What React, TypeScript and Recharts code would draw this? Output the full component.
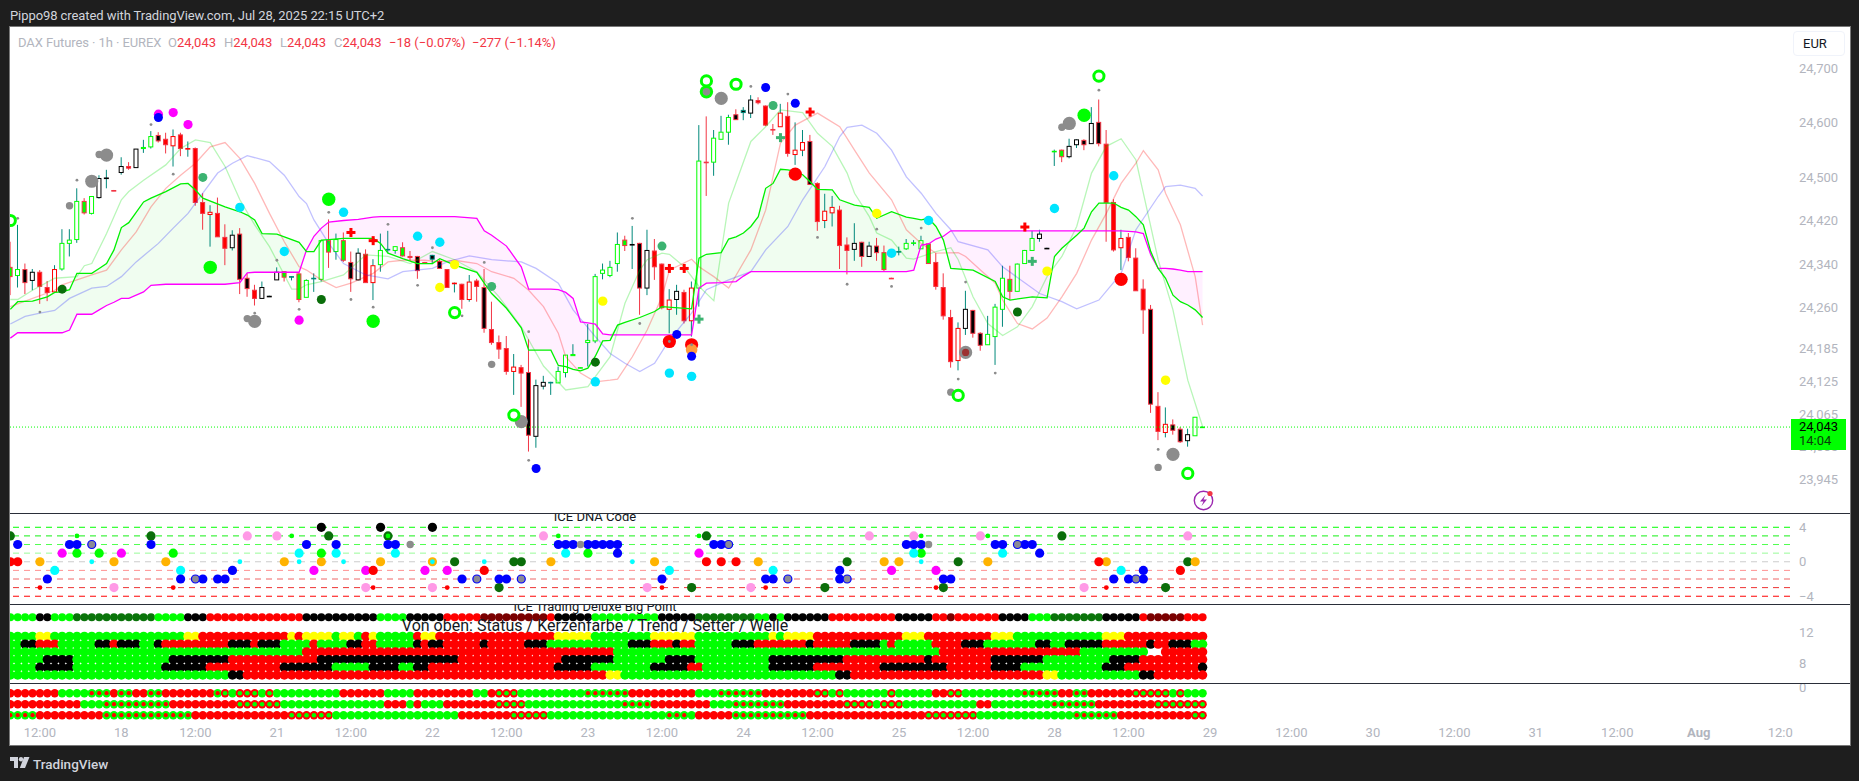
import {
  Area,
  Bar,
  ComposedChart,
  Line,
  ReferenceLine,
  Scatter,
  XAxis,
  YAxis,
} from "recharts";

// one row per hour bar: [open, high, low, close]
const barsJul17 = [
  [24336, 24383, 24285, 24319], [24321, 24414, 24299, 24332], [24332, 24343, 24287, 24308], [24312, 24333, 24294, 24327],
  [24327, 24331, 24269, 24301], [24299, 24311, 24274, 24290], [24291, 24340, 24290, 24332], [24333, 24406, 24330, 24380],
  [24380, 24406, 24356, 24386], [24387, 24481, 24381, 24457], [24457, 24463, 24433, 24436], [24435, 24466, 24433, 24466],
  [24464, 24505, 24462, 24499], [24499, 24515, 24481, 24500], [24477, 24478, 24476, 24476],
];
const barsJul18 = [
  [24510, 24538, 24506, 24521], [24521, 24529, 24515, 24518], [24519, 24553, 24519, 24553], [24554, 24570, 24546, 24556],
  [24557, 24586, 24554, 24576], [24578, 24584, 24565, 24568], [24571, 24583, 24545, 24561], [24559, 24589, 24521, 24576],
  [24579, 24583, 24540, 24554], [24553, 24567, 24539, 24554], [24554, 24556, 24449, 24455], [24455, 24472, 24405, 24435],
  [24433, 24450, 24374, 24437], [24435, 24464, 24392, 24392], [24391, 24415, 24340, 24371], [24372, 24404, 24367, 24395],
  [24397, 24408, 24287, 24314], [24316, 24325, 24282, 24297], [24294, 24304, 24266, 24279], [24279, 24310, 24279, 24299],
  [24283, 24284, 24283, 24283],
];
const barsJul21 = [
  [24313, 24336, 24313, 24327], [24328, 24329, 24310, 24318], [24319, 24320, 24312, 24319], [24324, 24325, 24272, 24277],
  [24281, 24314, 24281, 24312], [24315, 24325, 24291, 24316], [24314, 24385, 24310, 24385], [24385, 24424, 24335, 24364],
  [24365, 24398, 24350, 24387], [24385, 24400, 24346, 24349], [24345, 24365, 24291, 24315], [24313, 24371, 24312, 24362],
  [24360, 24369, 24308, 24308], [24308, 24351, 24276, 24339], [24341, 24398, 24328, 24367], [24369, 24403, 24362, 24369],
  [24367, 24374, 24361, 24374], [24372, 24382, 24356, 24357], [24356, 24366, 24348, 24354], [24356, 24357, 24315, 24330],
  [24345, 24346, 24344, 24345],
];
const barsJul22 = [
  [24351, 24359, 24342, 24358], [24347, 24350, 24334, 24334], [24332, 24333, 24299, 24299], [24307, 24308, 24290, 24307],
  [24305, 24306, 24260, 24277], [24277, 24322, 24273, 24309], [24311, 24315, 24273, 24301], [24299, 24333, 24216, 24224],
  [24222, 24273, 24194, 24198], [24198, 24211, 24168, 24186], [24187, 24210, 24139, 24145], [24145, 24177, 24102, 24153],
  [24152, 24157, 24080, 24142], [24143, 24204, 23998, 24028], [24026, 24130, 24005, 24119], [24118, 24137, 24112, 24125],
  [24125, 24126, 24102, 24125], [24124, 24154, 24124, 24145], [24143, 24175, 24134, 24175], [24174, 24195, 24174, 24176],
  [24152, 24153, 24151, 24152],
];
const barsJul23 = [
  [24198, 24232, 24154, 24202], [24201, 24324, 24197, 24319], [24325, 24343, 24314, 24331], [24321, 24348, 24318, 24336],
  [24343, 24400, 24328, 24378], [24386, 24394, 24366, 24376], [24378, 24412, 24333, 24378], [24380, 24381, 24249, 24298],
  [24298, 24405, 24285, 24367], [24366, 24388, 24313, 24337], [24342, 24343, 24259, 24262], [24259, 24296, 24215, 24276],
  [24277, 24304, 24249, 24292], [24290, 24295, 24233, 24238], [24238, 24310, 24209, 24298], [24298, 24597, 24264, 24531],
  [24529, 24613, 24467, 24528], [24529, 24588, 24504, 24573], [24571, 24614, 24571, 24584], [24584, 24616, 24561, 24611],
  [24616, 24626, 24607, 24607],
];
const barsJul24 = [
  [24620, 24630, 24606, 24624], [24619, 24652, 24610, 24643], [24642, 24648, 24635, 24638], [24632, 24633, 24595, 24597],
  [24589, 24599, 24579, 24588], [24594, 24636, 24594, 24619], [24613, 24639, 24539, 24545], [24543, 24602, 24524, 24551],
  [24551, 24588, 24540, 24565], [24567, 24579, 24488, 24488], [24490, 24492, 24403, 24420], [24422, 24471, 24408, 24439],
  [24436, 24467, 24411, 24446], [24441, 24449, 24333, 24376], [24377, 24391, 24323, 24367], [24369, 24417, 24348, 24380],
  [24382, 24383, 24337, 24356], [24356, 24383, 24356, 24375], [24375, 24390, 24348, 24363], [24363, 24376, 24329, 24332],
  [24316, 24317, 24315, 24316],
];
const barsJul25 = [
  [24365, 24374, 24358, 24365], [24370, 24388, 24368, 24380], [24380, 24386, 24376, 24381], [24370, 24394, 24370, 24385],
  [24379, 24380, 24343, 24343], [24345, 24362, 24295, 24301], [24299, 24325, 24240, 24247], [24244, 24258, 24152, 24163],
  [24165, 24235, 24147, 24224], [24224, 24293, 24212, 24259], [24257, 24258, 24207, 24215], [24215, 24217, 24183, 24193],
  [24194, 24247, 24194, 24213], [24209, 24269, 24157, 24263], [24259, 24339, 24227, 24316], [24314, 24339, 24276, 24292],
  [24292, 24343, 24292, 24342], [24343, 24368, 24343, 24367], [24367, 24403, 24367, 24389], [24389, 24405, 24383, 24397],
  [24371, 24372, 24370, 24371],
];
const barsJul28 = [
  [24548, 24552, 24522, 24549], [24551, 24552, 24529, 24539], [24539, 24572, 24536, 24558], [24561, 24571, 24555, 24570],
  [24569, 24571, 24551, 24561], [24563, 24630, 24563, 24600], [24602, 24644, 24558, 24563], [24562, 24588, 24383, 24455],
  [24455, 24461, 24365, 24368], [24372, 24405, 24331, 24389], [24391, 24399, 24347, 24354], [24353, 24371, 24293, 24293],
  [24296, 24314, 24214, 24258], [24259, 24267, 24069, 24085], [24081, 24107, 24019, 24035], [24033, 24079, 24024, 24048],
  [24047, 24057, 24029, 24037], [24039, 24043, 24014, 24016], [24018, 24040, 24007, 24029], [24027, 24061, 24027, 24061],
  [24043, 24044, 24043, 24043],
];
// candle colouring per bar, one letter each (see candleLooks)
const barLooks =
  "gGkKrrRGGGgGKKr" +
  "KrKGGkrRrRrrRrrKkkrKK" +
  "KgTgGTGgGgkKrRGTGgrkr" +
  "nkrRrRrkrrrRrkKKTGGGG" +
  "GGGGGgKkKrrRKrRGrGGGk" +
  "nKrrrRrRRkrRRrrKkKkgr" +
  "TGGGgrrrRKkkGGGgGGGKK" +
  "GgKKkKkrrRrrrkrRkkKGG";

// the two lines that bound the cloud, read at the same bars
const cloudBars = [
  0, 1, 3, 5, 6, 7, 8, 9, 11, 12, 13, 14, 15, 16, 18, 19, 21, 23, 24, 25, 26, 29, 31, 32, 33, 34, 36, 39, 40, 41, 42, 43,
  45, 47, 49, 50, 51, 53, 55, 57, 58, 60, 63, 64, 65, 67, 69, 70, 73, 74, 75, 76, 77, 78, 79, 80, 81, 82, 83, 85, 87, 88,
  92, 93, 94, 96, 97, 98, 99, 100, 101, 102, 103, 104, 105, 106, 107, 108, 109, 111, 112, 114, 116, 117, 119, 121, 122,
  123, 124, 125, 126, 127, 130, 133, 134, 135, 138, 140, 141, 142, 144, 145, 146, 147, 149, 150, 151, 152, 153, 154, 155,
  156, 157, 158, 159, 160, 161,
];
const fastLine = [
  24259, 24273, 24274, 24282, 24290, 24291, 24295, 24325, 24325, 24334, 24343, 24368, 24409, 24418, 24456, 24463, 24475,
  24489, 24490, 24478, 24463, 24447, 24438, 24432, 24423, 24398, 24397, 24382, 24365, 24365, 24386, 24387, 24389, 24389,
  24389, 24380, 24362, 24352, 24343, 24343, 24352, 24340, 24327, 24307, 24288, 24261, 24225, 24184, 24184, 24156, 24154,
  24149, 24146, 24151, 24173, 24201, 24202, 24230, 24235, 24244, 24255, 24264, 24260, 24353, 24360, 24363, 24388, 24392,
  24399, 24411, 24429, 24481, 24490, 24516, 24515, 24512, 24506, 24493, 24479, 24478, 24460, 24450, 24446, 24426, 24438,
  24428, 24426, 24423, 24426, 24411, 24386, 24334, 24331, 24310, 24282, 24276, 24282, 24280, 24356, 24371, 24395, 24408,
  24438, 24454, 24454, 24446, 24441, 24429, 24414, 24365, 24334, 24316, 24285, 24273, 24267, 24258, 24244,
];
const slowLine = [
  24206, 24216, 24216, 24216, 24216, 24216, 24221, 24250, 24250, 24258, 24266, 24272, 24279, 24279, 24291, 24303, 24305,
  24305, 24305, 24305, 24305, 24305, 24308, 24326, 24327, 24327, 24327, 24327, 24368, 24393, 24408, 24419, 24422, 24424,
  24428, 24429, 24429, 24429, 24429, 24429, 24429, 24429, 24426, 24403, 24395, 24375, 24337, 24296, 24296, 24295, 24290,
  24279, 24236, 24234, 24232, 24214, 24212, 24212, 24212, 24212, 24212, 24212, 24212, 24298, 24307, 24308, 24309, 24310,
  24320, 24328, 24328, 24328, 24328, 24328, 24328, 24328, 24328, 24328, 24328, 24328, 24328, 24328, 24328, 24328, 24328,
  24328, 24331, 24377, 24379, 24388, 24393, 24403, 24403, 24403, 24403, 24403, 24403, 24403, 24403, 24403, 24403, 24403,
  24403, 24403, 24403, 24403, 24402, 24401, 24398, 24359, 24334, 24334, 24333, 24331, 24328, 24328, 24328,
];

// thin moving averages, [bar, price] at the bends
const paleGreenAvg = [
  [0, 24277], [1, 24277], [3, 24294], [6, 24316], [9, 24319], [10, 24339], [11, 24343], [13, 24398], [15, 24460], [16, 24475],
  [18, 24496], [21, 24524], [23, 24554], [25, 24570], [27, 24565], [29, 24521], [31, 24460], [33, 24414], [35, 24374],
  [38, 24296], [39, 24296], [40, 24304], [42, 24310], [45, 24322], [48, 24359], [51, 24356], [54, 24343], [57, 24365],
  [60, 24350], [63, 24328], [66, 24282], [69, 24227], [72, 24155], [75, 24111], [78, 24117], [81, 24172], [83, 24270],
  [85, 24331], [86, 24350], [88, 24362], [89, 24360], [91, 24337], [93, 24301], [95, 24275], [97, 24454], [100, 24567],
  [102, 24594], [104, 24625], [107, 24620], [109, 24582], [111, 24558], [113, 24509], [114, 24472], [116, 24429], [117, 24399],
  [119, 24386], [121, 24353], [122, 24351], [125, 24365], [127, 24372], [128, 24350], [130, 24282], [132, 24233], [134, 24211],
  [136, 24227], [138, 24264], [140, 24319], [142, 24356], [144, 24411], [146, 24509], [148, 24558], [150, 24572], [152, 24533],
  [153, 24472], [155, 24350], [157, 24258], [159, 24129], [161, 24044],
];
const paleRedAvg = [
  [0, 24264], [2, 24274], [6, 24294], [7, 24304], [9, 24313], [11, 24322], [13, 24331], [15, 24368], [17, 24401], [19, 24447],
  [21, 24481], [23, 24505], [25, 24527], [27, 24557], [29, 24565], [31, 24536], [33, 24490], [35, 24435], [37, 24383],
  [39, 24337], [40, 24331], [42, 24313], [44, 24299], [46, 24307], [49, 24325], [51, 24346], [53, 24349], [56, 24349],
  [58, 24346], [60, 24349], [63, 24343], [65, 24328], [68, 24316], [70, 24294], [72, 24264], [74, 24215], [75, 24172],
  [77, 24142], [79, 24126], [81, 24129], [82, 24131], [84, 24172], [86, 24221], [88, 24282], [89, 24331], [92, 24351],
  [93, 24337], [95, 24319], [97, 24298], [100, 24368], [102, 24441], [104, 24564], [106, 24597], [109, 24619], [112, 24594],
  [114, 24551], [116, 24509], [119, 24460], [121, 24405], [123, 24380], [125, 24362], [128, 24363], [129, 24356], [131, 24331],
  [133, 24307], [134, 24276], [136, 24233], [138, 24223], [140, 24243], [142, 24282], [144, 24325], [146, 24386], [148, 24435],
  [150, 24490], [152, 24527], [153, 24550], [155, 24515], [156, 24472], [158, 24414], [160, 24319], [161, 24230],
];
const paleBlueAvg = [
  [0, 24232], [2, 24246], [4, 24252], [6, 24257], [8, 24279], [11, 24298], [13, 24301], [15, 24319], [17, 24346], [20, 24380],
  [22, 24408], [24, 24435], [26, 24472], [28, 24509], [30, 24527], [32, 24541], [35, 24530], [37, 24505], [39, 24466],
  [40, 24453], [41, 24423], [43, 24380], [45, 24343], [48, 24322], [51, 24315], [53, 24328], [57, 24334], [59, 24346],
  [62, 24357], [65, 24350], [69, 24346], [71, 24334], [74, 24307], [76, 24258], [79, 24209], [81, 24178], [83, 24160],
  [85, 24145], [87, 24160], [89, 24203], [92, 24252], [94, 24295], [97, 24313], [100, 24328], [102, 24368], [105, 24411],
  [107, 24460], [110, 24521], [112, 24576], [113, 24593], [115, 24597], [117, 24582], [119, 24551], [121, 24502], [123, 24472],
  [125, 24435], [127, 24405], [128, 24383], [132, 24368], [134, 24337], [139, 24288], [142, 24273], [144, 24260], [147, 24276],
  [150, 24325], [152, 24405], [155, 24466], [156, 24484], [158, 24487], [160, 24481], [161, 24467],
];

// signal markers on the price pane, [bar, price]
const grayTiny = [
  [1, 24426], [4, 24254], [9, 24496], [19, 24598], [22, 24507], [33, 24252], [36, 24349], [39, 24259], [43, 24437], [46, 24277],
  [49, 24263], [51, 24415], [55, 24303], [57, 24372], [61, 24247], [64, 24345], [70, 24218], [70, 23982], [84, 24426], [85, 24233],
  [100, 24668], [105, 24654], [109, 24391], [113, 24305], [117, 24406], [119, 24301], [123, 24408], [128, 24131], [129, 24309],
  [133, 24142], [147, 24661], [155, 24002],
];
const grayMid = [[8, 24449], [12, 24543], [32, 24242], [65, 24158], [127, 24107], [142, 24593], [155, 23969]];
const grayBig = [[11, 24494], [13, 24542], [33, 24237], [69, 24053], [96, 24646], [129, 24180], [143, 24600], [157, 23993]];
const magentaDots = [[20, 24617], [22, 24620], [24, 24598], [39, 24239]];
const cyanDots = [
  [31, 24446], [37, 24365], [45, 24437], [55, 24393], [58, 24382], [79, 24126], [89, 24142], [92, 24136], [119, 24362],
  [124, 24422], [141, 24444], [149, 24504],
];
const blueDots = [[20, 24611], [71, 23967], [90, 24213], [92, 24173], [102, 24666], [106, 24637]];
const limeBig = [[27, 24336], [43, 24461], [49, 24237], [94, 24658], [145, 24615]];
const darkGreenDots = [[7, 24296], [42, 24277], [79, 24162], [136, 24254]];
const seaGreenDots = [[26, 24501], [65, 24301], [88, 24375], [103, 24633]];
const yellowDots = [[58, 24299], [60, 24341], [80, 24274], [117, 24435], [140, 24329], [156, 24129]];
const redBig = [[89, 24200], [92, 24194], [106, 24507], [150, 24314]];
const orangeDots = [[92, 24185]];
const brownDots = [[129, 24180]];
const limeRings = [[0, 24422], [60, 24253], [68, 24065], [94, 24678], [98, 24672], [128, 24101], [147, 24687], [159, 23958]];
const redPlus = [[46, 24400], [49, 24385], [89, 24334], [91, 24334], [108, 24621], [137, 24410]];
const seaPlus = [[93, 24241], [104, 24574], [138, 24347]];
const innerGray = [[89, 24200], [92, 24194]];
const innerGrayWide = [[94, 24658]];

// ICE DNA Code pane, [bar, level]
const dnaDarkGreen = [
  [0, 3], [19, 3], [43, 3], [51, 3], [60, 0], [66, -3], [68, 0], [69, 0], [92, -3], [94, 3], [110, -3], [113, 0], [126, -3],
  [128, 0], [142, 3], [156, -3], [159, 0],
];
const dnaBlue = [
  [1, 2], [8, 2], [9, 2], [19, 2], [40, 2], [44, 2], [51, 2], [52, 2], [74, 2], [75, 2], [76, 2], [78, 2], [79, 2], [80, 2],
  [81, 2], [82, 2], [95, 2], [96, 2], [121, 2], [122, 2], [123, 2], [133, 2], [134, 2], [137, 2], [138, 2], [82, 1], [139, 1],
  [30, -1], [112, -1], [153, -1], [5, -2], [23, -2], [26, -2], [28, -2], [29, -2], [61, -2], [66, -2], [67, -2], [88, -2],
  [102, -2], [103, -2], [112, -2], [126, -2], [127, -2], [149, -2], [151, -2], [153, -2],
];
const dnaBlueRing = [[11, 2], [97, 2], [136, 2], [25, -2], [63, -2], [69, -2], [105, -2], [113, -2], [152, -2]];
const dnaGray = [[54, 2], [77, 2], [124, 2]];
const dnaMagenta = [[7, 1], [15, 1], [93, 1], [41, -1], [48, -1], [56, -1], [59, -1], [119, -1], [125, -1]];
const dnaCyan = [[39, 1], [44, 1], [52, 1], [75, 1], [122, 1], [134, 1], [6, -1], [23, -1], [89, -1], [103, -1], [150, -1]];
const dnaLime = [[9, 1], [12, 1], [22, 1], [42, 1], [78, 1], [123, 1]];
const dnaOrange = [
  [4, 0], [14, 0], [21, 0], [37, 0], [42, 0], [50, 0], [57, 0], [73, 0], [87, 0], [101, 0], [118, 0], [120, 0], [132, 0],
  [148, 0], [160, 0],
];
const dnaRed = [[0, 0], [1, 0], [94, 0], [96, 0], [98, 0], [147, 0], [49, -1], [64, -1], [158, -1]];
const dnaBlack = [[42, 4], [50, 4], [57, 4]];
const dnaPink = [
  [32, 3], [36, 3], [72, 3], [116, 3], [122, 3], [131, 3], [159, 3], [14, -3], [48, -3], [57, -3], [86, -3], [100, -3], [145, -3],
];
const dnaSmallGreen = [[9, 3], [38, 3], [51, 3], [74, 3], [93, 3], [123, 3], [132, 3]];
const dnaSmallCyan = [[11, 0], [31, 0], [39, 0], [45, 0], [57, 0], [64, 0], [84, 0], [123, 0]];
const dnaSmallRed = [[4, -3], [22, -3], [49, -3], [59, -3], [88, -3], [102, -3], [125, -3], [148, -3]];
const dnaLevels = [4, 3, 2, 1, 0, -1, -2, -3, -4];

// status matrix, runs of [colour code, number of bars]
const bigPointRuns = [
  ["g", 4], ["k", 2], ["g", 3], ["D", 11], ["g", 4], ["k", 3], ["r", 13], ["k", 10], ["g", 4], ["k", 5], ["r", 5], ["B", 9],
  ["r", 1], ["k", 5], ["g", 9], ["k", 5], ["D", 8], ["g", 2], ["k", 1], ["g", 1], ["k", 6], ["r", 9], ["k", 5], ["r", 2], ["B", 1],
  ["r", 6], ["k", 4], ["g", 3], ["D", 7], ["k", 5], ["r", 1], ["B", 5], ["r", 3],
];
const statusRuns = [
  ["g", 4], ["y", 2], ["g", 18], ["y", 2], ["r", 12], ["y", 1], ["r", 1], ["y", 4], ["g", 1], ["y", 2], ["g", 1], ["r", 1], ["y", 1],
  ["g", 5], ["r", 1], ["y", 2], ["r", 16], ["y", 5], ["g", 8], ["y", 6], ["g", 10], ["y", 1], ["g", 1], ["y", 4], ["r", 12], ["y", 3],
  ["r", 9], ["y", 3], ["g", 12], ["y", 3], ["r", 11],
];
const candleColorRuns = [
  ["g", 2], ["k", 2], ["r", 3], ["g", 5], ["k", 2], ["r", 1], ["k", 3], ["g", 2], ["k", 1], ["r", 9], ["k", 3], ["r", 1], ["k", 3],
  ["g", 4], ["r", 1], ["g", 4], ["k", 2], ["r", 2], ["g", 5], ["k", 1], ["r", 1], ["k", 2], ["r", 5], ["k", 1], ["r", 5], ["k", 3],
  ["g", 11], ["k", 3], ["r", 3], ["k", 1], ["r", 2], ["g", 5], ["k", 3], ["r", 7], ["k", 1], ["r", 5], ["k", 4], ["g", 1], ["r", 1],
  ["g", 5], ["r", 4], ["k", 3], ["g", 7], ["k", 2], ["g", 2], ["k", 5], ["r", 6], ["k", 1], ["r", 2], ["k", 3], ["g", 2],
];
const cloudColorRuns = [["g", 40], ["r", 42], ["g", 44], ["r", 19], ["g", 9], ["w", 2], ["r", 6]];
const trendRuns = [
  ["g", 5], ["k", 4], ["g", 13], ["k", 8], ["r", 12], ["k", 19], ["r", 14], ["k", 7], ["g", 7], ["k", 4], ["g", 10], ["k", 10],
  ["r", 11], ["k", 1], ["r", 8], ["k", 7], ["g", 9], ["k", 4], ["r", 9],
];
const setterRuns = [
  ["g", 4], ["k", 5], ["g", 12], ["k", 6], ["r", 10], ["k", 7], ["g", 5], ["k", 4], ["g", 2], ["k", 2], ["r", 17], ["k", 5], ["g", 8],
  ["k", 5], ["r", 2], ["g", 9], ["k", 6], ["r", 9], ["k", 9], ["r", 6], ["k", 4], ["g", 11], ["k", 3], ["r", 10], ["k", 1],
];
const waveRuns = [
  ["g", 30], ["k", 2], ["r", 49], ["y", 2], ["g", 29], ["k", 2], ["r", 26], ["y", 2], ["g", 11], ["k", 2], ["r", 7],
];
const momentumTopRuns = [
  ["r", 7], ["g", 4], ["d", 3], ["r", 1], ["d", 2], ["r", 2], ["d", 2], ["r", 7], ["d", 1], ["o", 1], ["g", 1], ["o", 3], ["g", 1], ["o", 1],
  ["g", 9], ["r", 6], ["g", 4], ["r", 8], ["g", 2], ["r", 1], ["o", 3], ["g", 9], ["d", 6], ["r", 9], ["g", 3], ["d", 6], ["r", 7], ["o", 2],
  ["g", 1], ["o", 1], ["g", 6], ["o", 1], ["g", 5], ["r", 2], ["o", 2], ["g", 8], ["d", 5], ["r", 2], ["d", 2], ["r", 6], ["o", 5], ["g", 1],
  ["o", 1], ["g", 3],
];
const momentumMidRuns = [
  ["r", 10], ["g", 3], ["d", 9], ["r", 9], ["o", 6], ["g", 14], ["r", 3], ["g", 1], ["r", 1], ["g", 3], ["r", 7], ["o", 4], ["g", 13], ["d", 4],
  ["r", 8], ["g", 3], ["d", 7], ["r", 8], ["o", 4], ["g", 1], ["o", 3], ["g", 10], ["r", 2], ["g", 8], ["d", 6], ["r", 8], ["o", 7],
];
const momentumLowRuns = [
  ["d", 4], ["r", 9], ["d", 12], ["r", 13], ["o", 6], ["g", 17], ["r", 7], ["o", 5], ["g", 16], ["d", 3], ["g", 1], ["r", 5], ["d", 10], ["r", 16],
  ["o", 7], ["g", 13], ["d", 6], ["r", 10], ["o", 2],
];

const priceTicks = [24700, 24600, 24500, 24420, 24340, 24260, 24185, 24125, 24065, 24005, 23945];
const timeTicks = [4, 15, 25, 36, 46, 57, 67, 78, 88, 99, 109, 120, 130, 141, 151, 162, 173, 184, 195, 206, 217, 228, 239];
const timeLabels = [
  "12:00", "18", "12:00", "21", "12:00", "22", "12:00", "23", "12:00", "24", "12:00", "25", "12:00", "28", "12:00", "29",
  "12:00", "30", "12:00", "31", "12:00", "Aug", "12:0",
];
const lastPrice = 24043;

const candleLooks: Record<string, { border: string; fill: string; wick: string }> = {
  G: { border: "#00ff00", fill: "#ffffff", wick: "#00897b" },
  K: { border: "#000000", fill: "#ffffff", wick: "#00897b" },
  R: { border: "#ff0000", fill: "#ffffff", wick: "#00897b" },
  r: { border: "#f23645", fill: "#ff0000", wick: "#f23645" },
  k: { border: "#f23645", fill: "#000000", wick: "#f23645" },
  g: { border: "#f23645", fill: "#00ff00", wick: "#f23645" },
  T: { border: "#00897b", fill: "#00897b", wick: "#00897b" },
  n: { border: "#00897b", fill: "#000000", wick: "#00897b" },
};
const matrixColors: Record<string, string> = {
  g: "#00ff00",
  k: "#000000",
  r: "#ff0000",
  y: "#ffff00",
  D: "#0a740a",
  B: "#7a0000",
};

const GREY = "#b2b5be";
const FONT = "Roboto, sans-serif";
const X_DOMAIN = [-0.04, 240.32];
const WIDTH = 1850;

const candleTable = [
  ...barsJul17, ...barsJul18, ...barsJul21, ...barsJul22, ...barsJul23, ...barsJul24, ...barsJul25, ...barsJul28,
].map(([open, high, low, close], i) => ({ x: i, open, high, low, close, range: [low, high], look: barLooks[i] }));

const cloudTable = cloudBars.map((x, i) => {
  const fast = fastLine[i];
  const slow = slowLine[i];
  return { x, fast, slow, up: [slow, Math.max(fast, slow)], down: [fast, Math.max(fast, slow)] };
});

const toPoints = (pairs: number[][]) => pairs.map(([x, y]) => ({ x, y }));
const expandRuns = (runs: (string | number)[][]) =>
  runs.flatMap(([code, count]) => Array.from({ length: count as number }, () => code as string));

const matrixPoints = (rows: { runs: (string | number)[][]; y: number }[]) =>
  rows.flatMap(({ runs, y }) => expandRuns(runs).map((code, x) => ({ x, y, code })));

const statusCells = matrixPoints([
  { runs: bigPointRuns, y: 14 },
  { runs: statusRuns, y: 11.5 },
  { runs: candleColorRuns, y: 10.5 },
  { runs: cloudColorRuns, y: 9.5 },
  { runs: trendRuns, y: 8.5 },
  { runs: setterRuns, y: 7.5 },
  { runs: waveRuns, y: 6.5 },
]);
const momentumCells = matrixPoints([
  { runs: momentumTopRuns, y: -0.5 },
  { runs: momentumMidRuns, y: -1.5 },
  { runs: momentumLowRuns, y: -2.5 },
]);

function CandleShape(props: any) {
  const { x, y, width, height, payload } = props;
  const look = candleLooks[payload.look];
  const span = payload.high - payload.low;
  const toY = (value: number) => y + ((payload.high - value) / span) * height;
  const top = toY(Math.max(payload.open, payload.close));
  const bottom = toY(Math.min(payload.open, payload.close));
  const mid = x + width / 2;
  return (
    <g>
      <line x1={mid} x2={mid} y1={y} y2={y + height} stroke={look.wick} strokeWidth={1} />
      <rect
        x={x + 0.5}
        y={top}
        width={width - 1}
        height={Math.max(bottom - top, 0.6)}
        fill={look.fill}
        stroke={look.border}
        strokeWidth={1}
      />
    </g>
  );
}

const dotShape = (color: string, r: number) => (props: any) =>
  <circle cx={props.cx} cy={props.cy} r={r} fill={color} />;

const ringShape = (color: string, r: number) => (props: any) =>
  <circle cx={props.cx} cy={props.cy} r={r} fill="none" stroke={color} strokeWidth={3} />;

const blueRingShape = (props: any) => (
  <circle cx={props.cx} cy={props.cy} r={4} fill="#8a8a96" stroke="#0000ff" strokeWidth={1.2} />
);

const plusShape = (color: string) => (props: any) => (
  <g fill={color}>
    <rect x={props.cx - 4.5} y={props.cy - 1.5} width={9} height={3} />
    <rect x={props.cx - 1.5} y={props.cy - 4.5} width={3} height={9} />
  </g>
);

const diamondShape = (color: string) => (props: any) =>
  <circle cx={props.cx} cy={props.cy} r={2.4} fill={color} />;

const matrixShape = (r: number) => (props: any) => {
  const { cx, cy, payload } = props;
  const radius = payload.y === 14 ? 4 : r;
  if (payload.code === "w") return <g />;
  if (payload.code === "d") {
    return (
      <g>
        <circle cx={cx} cy={cy} r={radius} fill="#00ff00" />
        <circle cx={cx} cy={cy} r={2.1} fill="#ff0000" />
      </g>
    );
  }
  if (payload.code === "o") {
    return (
      <g>
        <circle cx={cx} cy={cy} r={radius} fill="#ff0000" />
        <circle cx={cx} cy={cy} r={2.3} fill="#00ff00" />
      </g>
    );
  }
  return <circle cx={cx} cy={cy} r={radius} fill={matrixColors[payload.code]} />;
};

const priceMarks = [
  { data: grayBig, shape: dotShape("#8c8c8c", 6.6) },
  { data: grayMid, shape: dotShape("#8c8c8c", 3.7) },
  { data: limeBig, shape: dotShape("#00ff00", 6.7) },
  { data: redBig, shape: dotShape("#ff0000", 6.6) },
  { data: orangeDots, shape: dotShape("#ff9b3d", 5.8) },
  { data: brownDots, shape: dotShape("#9c3030", 3.6) },
  { data: magentaDots, shape: dotShape("#ff00ff", 4.6) },
  { data: blueDots, shape: dotShape("#0000ff", 4.5) },
  { data: cyanDots, shape: dotShape("#00e5ff", 4.7) },
  { data: yellowDots, shape: dotShape("#ffff00", 4.7) },
  { data: darkGreenDots, shape: dotShape("#0a6e0a", 4.5) },
  { data: seaGreenDots, shape: dotShape("#3cb371", 4.5) },
  { data: innerGrayWide, shape: dotShape("#8c8c8c", 3.8) },
  { data: grayTiny, shape: dotShape("#8c8c8c", 1.4) },
  { data: innerGray, shape: dotShape("#8c8c8c", 1.4) },
  { data: limeRings, shape: ringShape("#00ff00", 5.1) },
  { data: redPlus, shape: plusShape("#ff0000") },
  { data: seaPlus, shape: plusShape("#3cb371") },
];

const dnaMarks = [
  { data: dnaDarkGreen, shape: dotShape("#0a6e0a", 4.6) },
  { data: dnaPink, shape: dotShape("#ff99e6", 4.6) },
  { data: dnaOrange, shape: dotShape("#ffb300", 4.6) },
  { data: dnaLime, shape: dotShape("#00ff00", 4.6) },
  { data: dnaCyan, shape: dotShape("#00ffff", 4.6) },
  { data: dnaMagenta, shape: dotShape("#ff00ff", 4.6) },
  { data: dnaRed, shape: dotShape("#ff0000", 4.6) },
  { data: dnaBlack, shape: dotShape("#000000", 4.6) },
  { data: dnaBlue, shape: dotShape("#0000ff", 4.6) },
  { data: dnaBlueRing, shape: blueRingShape },
  { data: dnaGray, shape: dotShape("#8c8c8c", 3.7) },
  { data: dnaSmallGreen, shape: diamondShape("#00ff00") },
  { data: dnaSmallCyan, shape: diamondShape("#00ffff") },
  { data: dnaSmallRed, shape: diamondShape("#ff0000") },
];

const levelColors = ["#00ff00", "#14f014", "#50ff50", "#98fb98", "#cccccc", "#ff9090", "#ee6666", "#ee3333", "#ff0000"];

const formatPrice = (value: number) => value.toLocaleString("en-US");
const formatSigned = (value: number) => String(value).replace("-", "\u2212");

function TimeTick(props: any) {
  const { x, y, payload } = props;
  const label = timeLabels[timeTicks.indexOf(payload.value)];
  return (
    <text
      x={x}
      y={y + 7}
      textAnchor="middle"
      fontSize={13}
      fontFamily={FONT}
      fontWeight={label === "Aug" ? 700 : 400}
      fill={GREY}
    >
      {label}
    </text>
  );
}

const axisTick = { fill: GREY, fontSize: 13, fontFamily: FONT };

function Pane({ top, height, children, data }: any) {
  return (
    <div style={{ position: "absolute", left: 0, top, width: WIDTH, height }}>
      <ComposedChart width={WIDTH} height={height} data={data} margin={{ top: 0, right: 0, bottom: 0, left: 10 }}>
        {children}
      </ComposedChart>
    </div>
  );
}

const paneTitle = (text: string, top: number, height: number, inset: number, fontSize = 13) => (
  <div
    style={{
      position: "absolute",
      left: 300,
      width: 590,
      top,
      height,
      overflow: "hidden",
      textAlign: "center",
      color: "#131722",
      fontSize,
      lineHeight: "16px",
    }}
  >
    <div style={{ marginTop: inset }}>{text}</div>
  </div>
);

const separators = [513, 604, 683];

export default function App() {
  return (
    <div
      style={{
        position: "absolute",
        left: 0,
        top: 0,
        width: 1859,
        height: 781,
        background: "#1e1e1e",
        overflow: "hidden",
        fontFamily: FONT,
      }}
    >
      <div style={{ position: "absolute", left: 10, top: 7, color: "#d1d4dc", fontSize: 13, lineHeight: "17px", letterSpacing: -0.08 }}>
        Pippo98 created with TradingView.com, Jul 28, 2025 22:15 UTC+2
      </div>
      <div style={{ position: "absolute", left: 10, top: 27, width: 1840, height: 718, background: "#ffffff", outline: "1px solid #787878" }} />

      <Pane top={27} height={486} data={candleTable}>
        <XAxis dataKey="x" type="number" domain={X_DOMAIN} allowDataOverflow hide />
        <YAxis
          dataKey="y"
          orientation="right"
          width={60}
          domain={[23885.3, 24777]}
          allowDataOverflow
          ticks={priceTicks}
          interval={0}
          tick={{ ...axisTick, dy: -1 }}
          tickFormatter={formatPrice}
          axisLine={false}
          tickLine={false}
          tickMargin={3}
        />
        <Area data={cloudTable} dataKey="up" stroke="none" fill="#00e000" fillOpacity={0.06} dot={false} activeDot={false} isAnimationActive={false} />
        <Area data={cloudTable} dataKey="down" stroke="none" fill="#ff00ff" fillOpacity={0.06} dot={false} activeDot={false} isAnimationActive={false} />
        <Line data={toPoints(paleGreenAvg)} dataKey="y" stroke="#00e000" strokeOpacity={0.28} strokeWidth={1.3} dot={false} activeDot={false} isAnimationActive={false} />
        <Line data={toPoints(paleRedAvg)} dataKey="y" stroke="#ff0000" strokeOpacity={0.28} strokeWidth={1.3} dot={false} activeDot={false} isAnimationActive={false} />
        <Line data={toPoints(paleBlueAvg)} dataKey="y" stroke="#2020ff" strokeOpacity={0.28} strokeWidth={1.3} dot={false} activeDot={false} isAnimationActive={false} />
        <Line data={cloudTable} dataKey="slow" stroke="#ff00ff" strokeWidth={1.3} dot={false} activeDot={false} isAnimationActive={false} />
        <Line data={cloudTable} dataKey="fast" stroke="#00f000" strokeWidth={1.3} dot={false} activeDot={false} isAnimationActive={false} />
        <ReferenceLine y={lastPrice} stroke="#00ff00" strokeDasharray="1 2" />
        <Bar dataKey="range" barSize={5} shape={CandleShape} isAnimationActive={false} />
        {priceMarks.map((mark, i) => (
          <Scatter key={i} data={toPoints(mark.data)} dataKey="y" shape={mark.shape} isAnimationActive={false} />
        ))}
      </Pane>

      <Pane top={514} height={90}>
        <XAxis dataKey="x" type="number" domain={X_DOMAIN} allowDataOverflow hide />
        <YAxis
          dataKey="y"
          orientation="right"
          width={60}
          domain={[-4.9, 5.54]}
          allowDataOverflow
          ticks={[4, 0, -4]}
          interval={0}
          tick={axisTick}
          tickFormatter={formatSigned}
          axisLine={false}
          tickLine={false}
          tickMargin={3}
        />
        {dnaMarks.map((mark, i) => (
          <Scatter key={i} data={toPoints(mark.data)} dataKey="y" shape={mark.shape} isAnimationActive={false} />
        ))}
        {dnaLevels.map((level, i) => (
          <ReferenceLine key={level} y={level} stroke={levelColors[i]} strokeDasharray="6 5" />
        ))}
      </Pane>

      <Pane top={604} height={79}>
        <XAxis dataKey="x" type="number" domain={X_DOMAIN} allowDataOverflow hide />
        <YAxis
          dataKey="y"
          orientation="right"
          width={60}
          domain={[5.47, 15.7]}
          allowDataOverflow
          ticks={[12, 8]}
          interval={0}
          tick={axisTick}
          axisLine={false}
          tickLine={false}
          tickMargin={3}
        />
        <Scatter data={statusCells} dataKey="y" shape={matrixShape(4.7)} isAnimationActive={false} />
      </Pane>

      <Pane top={676} height={69}>
        <XAxis
          dataKey="x"
          type="number"
          domain={X_DOMAIN}
          allowDataOverflow
          ticks={timeTicks}
          interval={0}
          tick={TimeTick}
          height={23}
          axisLine={false}
          tickLine={false}
        />
        <YAxis
          dataKey="y"
          orientation="right"
          width={60}
          domain={[-3.118, 1.064]}
          allowDataOverflow
          ticks={[0]}
          interval={0}
          tick={axisTick}
          axisLine={false}
          tickLine={false}
          tickMargin={3}
        />
        <Scatter data={momentumCells} dataKey="y" shape={matrixShape(4.2)} isAnimationActive={false} />
      </Pane>

      {paneTitle("ICE DNA Code", 514, 12, -5)}
      {paneTitle("ICE Trading Deluxe Big Point", 605, 12, -6)}
      {paneTitle("Von oben: Status / Kerzenfarbe / Trend / Setter / Welle", 618, 16, 0, 16)}
      {paneTitle("Momentum Status Indikator", 684, 3, -14)}

      {separators.map((y) => (
        <div key={y} style={{ position: "absolute", left: 10, top: y, width: 1840, height: 1, background: "#2a2e39" }} />
      ))}

      {/* legend row */}
      <div style={{ position: "absolute", left: 18, top: 34, fontSize: 13, lineHeight: "17px", color: GREY, whiteSpace: "nowrap", letterSpacing: -0.08 }}>
        DAX Futures · 1h · EUREX
      </div>
      {[["O", 168], ["H", 224], ["L", 280], ["C", 334]].map(([label, left]) => (
        <div key={label} style={{ position: "absolute", left: left as number, top: 34, fontSize: 13, lineHeight: "17px", color: GREY }}>
          {label}
          <span style={{ color: "#f23645" }}>{formatPrice(lastPrice)}</span>
        </div>
      ))}
      <div style={{ position: "absolute", left: 389, top: 34, fontSize: 13, lineHeight: "17px", color: "#f23645", whiteSpace: "nowrap" }}>
        −18 (−0.07%)
      </div>
      <div style={{ position: "absolute", left: 472, top: 34, fontSize: 13, lineHeight: "17px", color: "#f23645", whiteSpace: "nowrap" }}>
        −277 (−1.14%)
      </div>

      {/* currency button and last price tag */}
      <div
        style={{
          position: "absolute",
          left: 1793,
          top: 31,
          width: 52,
          height: 25,
          boxSizing: "border-box",
          paddingLeft: 9,
          border: "1px solid #f0f3fa",
          borderRadius: 4,
          background: "#ffffff",
          color: "#131722",
          fontSize: 13,
          lineHeight: "23px",
        }}
      >
        EUR
      </div>
      <div
        style={{
          position: "absolute",
          left: 1791,
          top: 419,
          width: 55,
          height: 31,
          boxSizing: "border-box",
          paddingLeft: 8,
          background: "#00ff00",
          color: "#000000",
          fontSize: 13,
          lineHeight: "14px",
          paddingTop: 1,
        }}
      >
        <div>{formatPrice(lastPrice)}</div>
        <div style={{ color: "#0a3d0a" }}>14:04</div>
      </div>

      {/* alert badge */}
      <svg style={{ position: "absolute", left: 1192, top: 489 }} width={24} height={24}>
        <circle cx={11.5} cy={11.5} r={9.2} fill="#ffffff" stroke="#9c27b0" strokeWidth={1.4} />
        <path d="M13.5 6 L8 12.5 L11.5 12.5 L9.5 17 L15 10.5 L11.5 10.5 Z" fill="#9c27b0" />
        <circle cx={18} cy={4.5} r={2.6} fill="#f23645" />
      </svg>

      {/* footer */}
      <svg style={{ position: "absolute", left: 10, top: 757 }} width={20} height={12}>
        <path d="M0 0 H8 V11 H4 V4 H0 Z" fill="#d1d4dc" />
        <circle cx={11} cy={2.2} r={2.2} fill="#d1d4dc" />
        <path d="M14 0 H19.5 L15 11 H9.8 Z" fill="#d1d4dc" />
      </svg>
      <div style={{ position: "absolute", left: 33, top: 755, color: "#d1d4dc", fontSize: 13.5, fontWeight: 500, lineHeight: "18px" }}>
        TradingView
      </div>
    </div>
  );
}
